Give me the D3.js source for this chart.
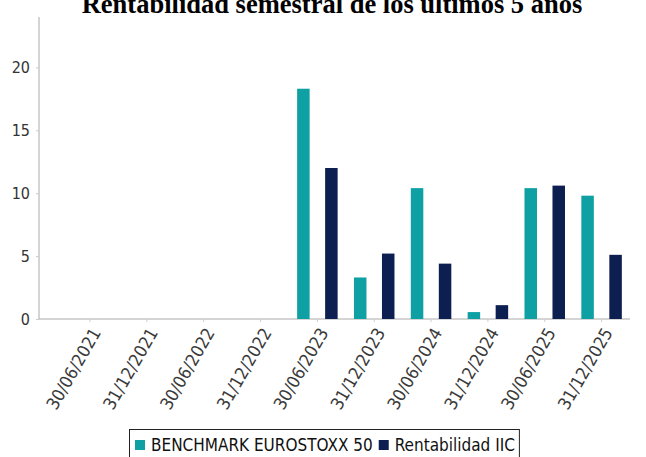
<!DOCTYPE html>
<html>
<head>
<meta charset="utf-8">
<script src="https://cdn.jsdelivr.net/npm/d3@7"></script>
<style>
  body { margin: 0; background: #fff; }
  svg { display: block; }
  .cond { font-family: "DejaVu Sans Condensed", "DejaVu Sans", sans-serif; font-stretch: condensed; }
</style>
</head>
<body>
<svg width="646" height="457"></svg>
<script>
const fechas = ["30/06/2021", "31/12/2021", "30/06/2022", "31/12/2022", "30/06/2023",
                "31/12/2023", "30/06/2024", "31/12/2024", "30/06/2025", "31/12/2025"];
const benchmark = [null, null, null, null, 18.3, 3.3, 10.4, 0.55, 10.4, 9.8];
const rentabilidad = [null, null, null, null, 12.0, 5.2, 4.4, 1.1, 10.6, 5.1];
const yTicks = [0, 5, 10, 15, 20];
const series = ["BENCHMARK EUROSTOXX 50", "Rentabilidad IIC"];
const colores = ["#0fa0a3", "#0c1f50"];

const svg = d3.select("svg");
const mLeft = 39, mRight = 630, mTop = 17, mBottom = 319;

const x = d3.scaleBand()
    .domain(fechas)
    .range([61.6, mRight]);

const y = d3.scaleLinear()
    .domain([0, 24])
    .range([mBottom, mTop]);

// titulo
svg.append("text")
    .attr("x", 332)
    .attr("y", 13)
    .attr("text-anchor", "middle")
    .attr("font-family", "Liberation Serif, Times New Roman, serif")
    .attr("font-weight", "bold")
    .attr("font-size", 26.5)
    .attr("fill", "#000")
    .text("Rentabilidad semestral de los últimos 5 años");

// eje y
const yAxis = svg.append("g")
    .attr("transform", `translate(${mLeft},0)`)
    .call(d3.axisLeft(y).tickValues(yTicks).tickSize(3).tickPadding(6));
yAxis.select(".domain").attr("stroke", "#aaa").attr("d", `M0,${mTop}V${mBottom}`);
yAxis.selectAll(".tick line").attr("stroke", "#ccc");
yAxis.selectAll("text")
    .attr("class", "cond")
    .attr("font-size", 16)
    .attr("fill", "#333");

// eje x
const xAxis = svg.append("g")
    .attr("transform", `translate(0,${mBottom})`)
    .call(d3.axisBottom(x).tickSize(3).tickPadding(0));
xAxis.select(".domain").attr("stroke", "#aaa").attr("d", `M${mLeft},0H${mRight}`);
xAxis.selectAll(".tick line").attr("stroke", "#ccc");
xAxis.selectAll("text")
    .attr("class", "cond")
    .attr("font-size", 17.5)
    .attr("fill", "#3a3a3a")
    .attr("text-anchor", "end")
    .attr("dy", 0)
    .attr("transform", "translate(9,12) rotate(-60)");

// barras
const offsets = [-14, 14];
const barW = 12.5;
[benchmark, rentabilidad].forEach((vals, s) => {
    svg.append("g")
        .selectAll("rect")
        .data(fechas.map((f, i) => ({ f, v: vals[i] })).filter(d => d.v != null))
        .enter().append("rect")
        .attr("x", d => x(d.f) + x.bandwidth() / 2 + offsets[s] - barW / 2)
        .attr("width", barW)
        .attr("y", d => y(d.v))
        .attr("height", d => y(0) - y(d.v))
        .attr("fill", colores[s]);
});

// leyenda
const legend = svg.append("g").attr("transform", "translate(129,429)");
const legendBox = legend.append("rect")
    .attr("fill", "#fff")
    .attr("stroke", "#222")
    .attr("stroke-width", 1);
let cx = 6;
series.forEach((name, i) => {
    legend.append("rect")
        .attr("x", cx)
        .attr("y", 11)
        .attr("width", 10)
        .attr("height", 10)
        .attr("fill", colores[i]);
    const t = legend.append("text")
        .attr("class", "cond")
        .attr("x", cx + 16)
        .attr("y", 22)
        .attr("font-size", 17)
        .attr("fill", "#111")
        .text(name);
    cx += 16 + t.node().getComputedTextLength() + 6;
});
legendBox.attr("x", 0.5).attr("y", 0.5).attr("width", cx - 2).attr("height", 40);
</script>
</body>
</html>
